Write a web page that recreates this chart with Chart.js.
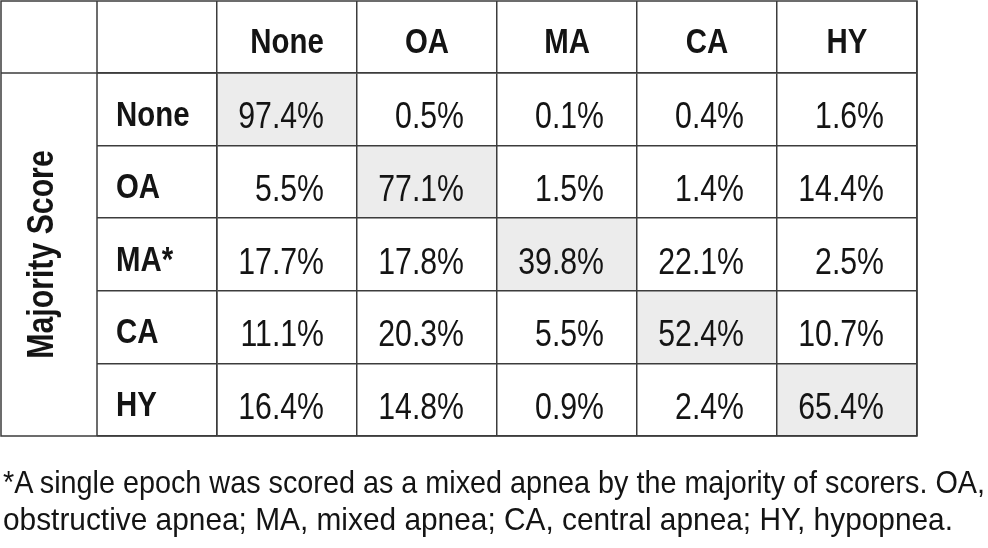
<!DOCTYPE html>
<html>
<head>
<meta charset="utf-8">
<script src="https://cdn.jsdelivr.net/npm/chart.js@4.4.1/dist/chart.umd.min.js"></script>
<style>
  html, body { margin: 0; padding: 0; background: #fff; }
  #wrap { position: relative; width: 988px; height: 548px; overflow: hidden; }
  #tabla { position: absolute; left: 0; top: 0; }
  #nota { position: absolute; left: 3px; top: 464px; font: 32px/37px "Liberation Sans", Arial, sans-serif; color: #141414; }
  #nota div { white-space: pre; width: max-content; transform-origin: 0 0; }
</style>
</head>
<body>
<div id="wrap">
  <canvas id="tabla" width="988" height="548"></canvas>
  <div id="nota"></div>
</div>
<script>
// Datos de la tabla (porcentajes por fila de la puntuación mayoritaria)
const columnas = ['None', 'OA', 'MA', 'CA', 'HY'];
const filas = ['None', 'OA', 'MA*', 'CA', 'HY'];
const filaNone = [97.4, 0.5, 0.1, 0.4, 1.6];
const filaOA = [5.5, 77.1, 1.5, 1.4, 14.4];
const filaMA = [17.7, 17.8, 39.8, 22.1, 2.5];
const filaCA = [11.1, 20.3, 5.5, 52.4, 10.7];
const filaHY = [16.4, 14.8, 0.9, 2.4, 65.4];
const tituloEje = 'Majority Score';
const notaPie = [
  '*A single epoch was scored as a mixed apnea by the majority of scorers. OA,',
  'obstructive apnea; MA, mixed apnea; CA, central apnea; HY, hypopnea.'
];

const matriz = [filaNone, filaOA, filaMA, filaCA, filaHY];

const LINEA = '#3c3c3c';
const TEXTO = '#141414';
const FUENTE = '"Liberation Sans", Arial, sans-serif';
const ESTRECHO = 0.84; // la tabla original usa una letra estrecha (tipo Arial Narrow)
const ANCHO_NOTA = [982, 950];

// celdas sombreadas: la diagonal (coincidencia fila = columna)
const diagonal = columnas.map((c, i) => [i, i + 1]);

// todo el texto del canvas se dibuja comprimido en horizontal
function estrecharTexto(ctx) {
  const original = ctx.fillText.bind(ctx);
  ctx.fillText = function (t, x, y, mw) {
    const w = this.measureText(t).width * ESTRECHO;
    original(t, x, y, mw === undefined ? w : Math.min(mw, w));
  };
}

const pluginCeldas = {
  id: 'celdas',
  afterDatasetsDraw(chart) {
    const { ctx, scales: { x, y } } = chart;
    const medio = (x.getPixelForValue(1) - x.getPixelForValue(0)) / 2;
    ctx.save();
    ctx.fillStyle = TEXTO;
    ctx.font = '36px ' + FUENTE;
    ctx.textAlign = 'right';
    ctx.textBaseline = 'alphabetic';
    matriz.forEach((fila, r) => {
      const yc = (y.getPixelForValue(r) + y.getPixelForValue(r + 1)) / 2;
      fila.forEach((v, c) => {
        const xr = x.getPixelForValue(c) + medio;
        ctx.fillText(v.toFixed(1) + '%', xr - 33, yc + 19);
      });
    });
    ctx.restore();
  }
};

const pluginMarco = {
  id: 'marco',
  afterDraw(chart) {
    const { ctx, chartArea: a, scales: { x, y } } = chart;
    const izq = y.left, arriba = x.top;
    const xEtiquetas = a.left - y.options.grid.tickLength;
    ctx.save();
    ctx.strokeStyle = LINEA;
    ctx.lineWidth = 1.5;
    ctx.beginPath();
    ctx.rect(izq, arriba, a.right - izq, a.bottom - arriba);
    ctx.moveTo(xEtiquetas, arriba); ctx.lineTo(xEtiquetas, a.bottom);
    ctx.moveTo(izq, a.top); ctx.lineTo(a.left, a.top);
    ctx.stroke();
    ctx.restore();
  }
};

function ajustarNota() {
  const nota = document.getElementById('nota');
  notaPie.forEach((linea, i) => {
    const d = document.createElement('div');
    d.textContent = linea;
    nota.appendChild(d);
    const ancho = d.getBoundingClientRect().width;
    d.style.transform = 'scaleX(' + (ANCHO_NOTA[i] / ancho) + ')';
  });
}

function crearTabla() {
  const canvas = document.getElementById('tabla');
  estrecharTexto(canvas.getContext('2d'));
  new Chart(canvas, {
    type: 'bar',
    data: {
      labels: columnas,
      datasets: [{
        data: diagonal,
        backgroundColor: '#ececec',
        borderWidth: 0,
        barPercentage: 1,
        categoryPercentage: 1
      }]
    },
    options: {
      responsive: false,
      animation: false,
      devicePixelRatio: 1,
      layout: { padding: { left: 1, top: 1, right: 71, bottom: 112 } },
      plugins: { legend: { display: false }, tooltip: { enabled: false } },
      scales: {
        x: {
          type: 'category',
          position: 'top',
          offset: true,
          grid: { offset: true, color: LINEA, lineWidth: 1.5, tickLength: 72, z: 1 },
          border: { color: LINEA, width: 1.5, z: 1 },
          ticks: { color: TEXTO, padding: -63, font: { family: FUENTE, size: 35, weight: 'bold' } },
          afterFit(s) { s.height = 72; }
        },
        y: {
          type: 'linear',
          reverse: true,
          min: 0,
          max: 5,
          grid: { color: LINEA, lineWidth: 1.5, tickLength: 120, z: 1 },
          border: { color: LINEA, width: 1.5, z: 1 },
          ticks: {
            stepSize: 1,
            autoSkip: false,
            mirror: true,
            padding: -101,
            labelOffset: 43,
            color: TEXTO,
            font: { family: FUENTE, size: 35, weight: 'bold' },
            callback: v => filas[v] ?? ''
          },
          title: {
            display: true,
            text: tituloEje,
            color: TEXTO,
            padding: { top: 20, bottom: 0 },
            font: { family: FUENTE, size: 36, weight: 'bold' }
          },
          afterFit(s) { s.width = 216; }
        }
      }
    },
    plugins: [pluginCeldas, pluginMarco]
  });
  ajustarNota();
}

window.addEventListener('DOMContentLoaded', crearTabla);
</script>
</body>
</html>
